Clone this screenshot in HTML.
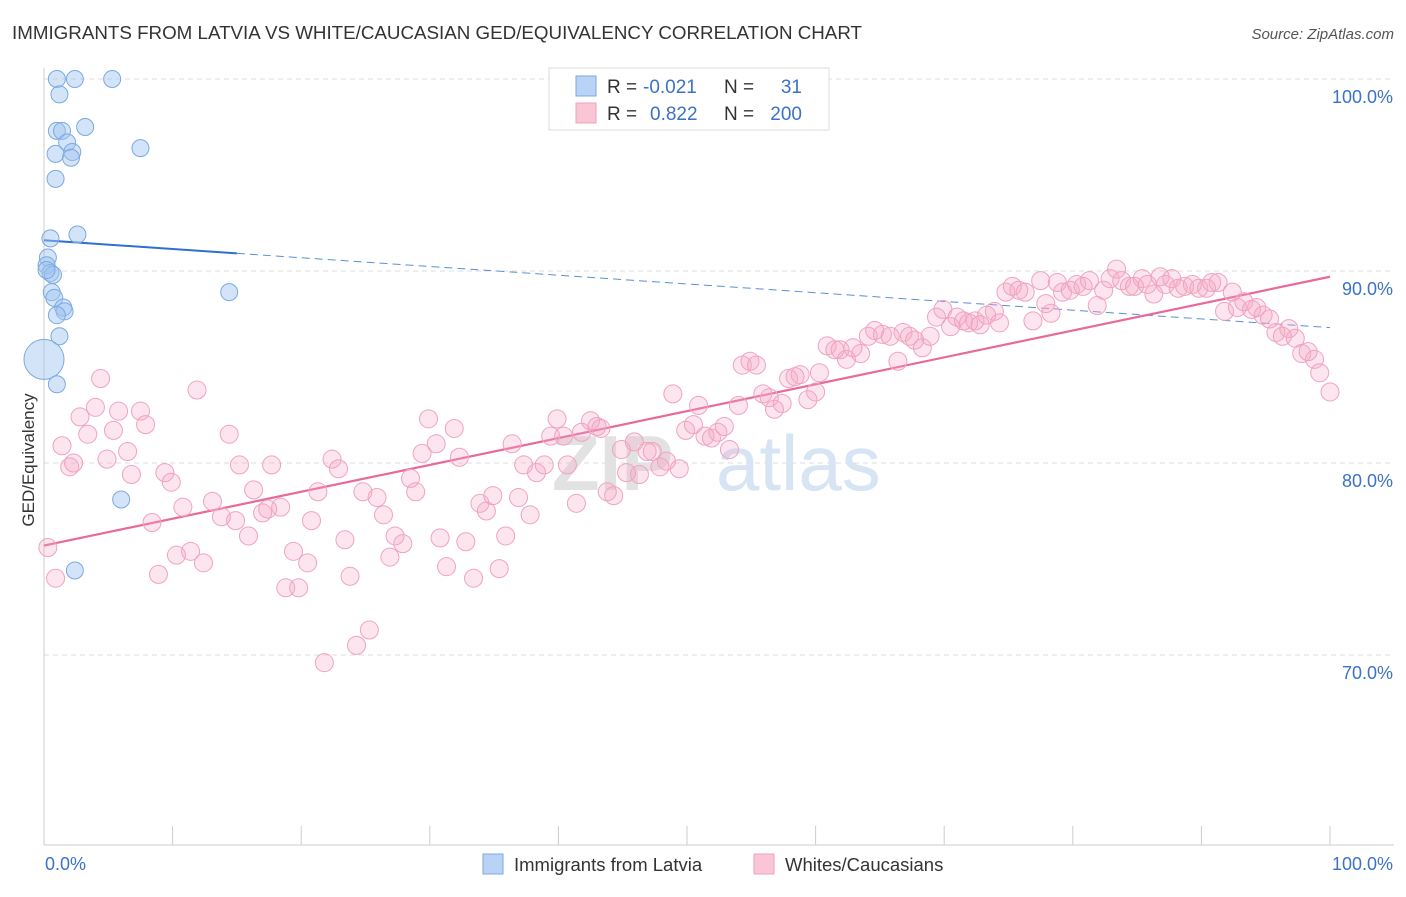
<!DOCTYPE html>
<html><head><meta charset="utf-8"><style>
body{margin:0;background:#fff;font-family:"Liberation Sans",sans-serif;}
svg text{font-family:"Liberation Sans",sans-serif;}
</style></head><body>
<svg id="chart" width="1406" height="892" xmlns="http://www.w3.org/2000/svg">
<text x="12" y="39" font-size="18" fill="#333" textLength="850" lengthAdjust="spacingAndGlyphs">IMMIGRANTS FROM LATVIA VS WHITE/CAUCASIAN GED/EQUIVALENCY CORRELATION CHART</text>
<text x="1394" y="39" font-size="15" fill="#555" font-style="italic" text-anchor="end">Source: ZipAtlas.com</text>
<text x="34" y="460" font-size="17" fill="#333" text-anchor="middle" transform="rotate(-90 34 460)">GED/Equivalency</text>
<g id="grid"></g>
<g><text x="552" y="490" font-size="78" fill="#e2e2e2" font-weight="bold">ZIP</text><text x="716" y="490" font-size="78" fill="#d6e4f4">atlas</text></g>
<g id="trend"></g>
<g id="points"></g>
<g>
<rect x="549" y="68" width="280" height="62" fill="#fff" stroke="#ddd"/>
<rect x="576" y="76" width="20" height="20" fill="#b8d3f5" stroke="#7aaae0"/>
<rect x="576" y="103" width="20" height="20" fill="#f9c6d6" stroke="#f0a0bb"/>
<text x="607" y="93" font-size="19" fill="#333">R =</text><text x="643" y="93" font-size="19" fill="#3a72c8">-0.021</text>
<text x="724" y="93" font-size="19" fill="#333">N =</text><text x="802" y="93" font-size="19" fill="#3a72c8" text-anchor="end">31</text>
<text x="607" y="120" font-size="19" fill="#333">R =</text><text x="650" y="120" font-size="19" fill="#3a72c8">0.822</text>
<text x="724" y="120" font-size="19" fill="#333">N =</text><text x="802" y="120" font-size="19" fill="#3a72c8" text-anchor="end">200</text>
</g>
<g>
<rect x="483" y="854" width="20" height="20" fill="#b8d3f5" stroke="#7aaae0"/>
<text x="514" y="871" font-size="18.5" fill="#333">Immigrants from Latvia</text>
<rect x="754" y="854" width="20" height="20" fill="#f9c6d6" stroke="#f0a0bb"/>
<text x="785" y="871" font-size="18.5" fill="#333">Whites/Caucasians</text>
</g>
</svg>
<script>
const yTicks=[100,90,80,70];
const yTickLabels=["100.0%","90.0%","80.0%","70.0%"];
const xTickLabels=["0.0%","100.0%"];
const blueX=[1.0,2.4,5.3,1.2,1.0,1.4,3.2,1.8,0.9,2.2,2.1,7.5,0.9,0.5,2.6,0.3,0.2,0.5,0.7,0.6,0.8,14.4,1.5,1.6,1.0,1.2,0,1.0,6.0,2.4,0.2];
const blueY=[100,100,100,99.2,97.3,97.3,97.5,96.7,96.1,96.2,95.9,96.4,94.8,91.7,91.9,90.7,90.3,89.9,89.8,88.9,88.6,88.9,88.1,87.9,87.7,86.6,85.4,84.1,78.1,74.4,90.05];
const pinkX=[0.3,0.9,1.4,2.0,2.3,2.8,3.4,4.0,4.4,4.9,5.4,5.8,6.5,6.8,7.5,7.9,8.4,8.9,9.4,9.9,10.3,10.8,11.4,11.9,12.4,13.1,13.8,14.4,14.9,15.2,15.9,16.3,17.0,17.4,17.7,18.4,18.8,19.4,19.8,20.5,20.8,21.3,21.8,22.4,22.9,23.4,23.8,24.3,24.8,25.3,25.9,26.4,26.9,27.3,27.9,28.5,28.9,29.4,29.9,30.5,30.8,31.3,31.9,32.3,32.8,33.4,33.9,34.4,34.9,35.4,35.9,36.4,36.9,37.3,37.8,38.3,38.9,39.4,39.9,40.4,40.7,41.4,41.8,42.5,43.0,43.3,43.8,44.3,44.9,45.3,45.9,46.3,46.9,47.3,47.9,48.4,48.9,49.4,49.9,50.5,50.9,51.4,51.9,52.4,52.9,53.3,54.0,54.3,54.9,55.4,55.9,56.4,56.8,57.4,57.9,58.4,58.8,59.4,60.0,60.3,60.9,61.5,61.9,62.4,62.9,63.5,64.1,64.6,65.2,65.8,66.4,66.8,67.3,67.7,68.3,68.9,69.4,69.9,70.5,71.0,71.5,71.9,72.4,72.8,73.3,73.9,74.3,74.8,75.3,75.8,76.3,76.9,77.5,77.9,78.3,78.8,79.2,79.8,80.3,80.8,81.3,81.9,82.4,82.9,83.4,83.8,84.4,84.8,85.4,85.8,86.3,86.8,87.2,87.7,88.2,88.7,89.3,89.8,90.4,90.8,91.3,91.8,92.4,92.8,93.3,93.9,94.3,94.8,95.3,95.8,96.3,96.8,97.3,97.8,98.3,98.8,99.2,100];
const pinkY=[75.6,74.0,80.9,79.8,80.0,82.4,81.5,82.9,84.4,80.2,81.7,82.7,80.6,79.4,82.7,82.0,76.9,74.2,79.5,79.0,75.2,77.7,75.4,83.8,74.8,78.0,77.2,81.5,77.0,79.9,76.2,78.6,77.4,77.6,79.9,77.7,73.5,75.4,73.5,74.8,77.0,78.5,69.6,80.2,79.7,76.0,74.1,70.5,78.5,71.3,78.2,77.3,75.1,76.2,75.8,79.2,78.5,80.5,82.3,81.0,76.1,74.6,81.8,80.3,75.9,74.0,77.9,77.5,78.3,74.5,76.2,81.0,78.2,79.9,77.3,79.5,79.9,81.4,82.3,81.4,79.9,77.9,81.6,82.2,81.9,81.8,78.5,78.3,80.7,79.5,81.1,79.4,80.6,80.6,79.8,80.1,83.6,79.7,81.7,82.0,83.0,81.4,81.3,81.6,81.9,80.7,83.0,85.1,85.3,85.1,83.6,83.4,82.8,83.1,84.4,84.5,84.6,83.3,83.7,84.7,86.1,85.9,85.9,85.4,86.0,85.7,86.6,86.9,86.7,86.6,85.3,86.8,86.6,86.4,86.0,86.6,87.6,88.0,87.1,87.6,87.4,87.3,87.4,87.2,87.7,87.9,87.3,88.9,89.2,89.0,88.9,87.4,89.5,88.3,87.8,89.4,88.9,89.0,89.3,89.2,89.5,88.2,89.0,89.6,90.1,89.5,89.2,89.2,89.6,89.3,88.8,89.7,89.3,89.6,89.1,89.2,89.3,89.1,89.1,89.4,89.4,87.9,88.9,88.1,88.4,88.0,88.1,87.7,87.5,86.8,86.6,87.0,86.5,85.7,85.8,85.4,84.7,83.7];
const blueTrend=[91.6,87.05];
const pinkTrend=[75.7,89.7];
const NS="http://www.w3.org/2000/svg";
function sx(v){return 44+v*12.86;}
function sy(v){return 79+(100-v)*19.2;}
function mk(tag,attrs,parent){const e=document.createElementNS(NS,tag);for(const k in attrs)e.setAttribute(k,attrs[k]);parent.appendChild(e);return e;}
const grid=document.getElementById('grid');
yTicks.forEach((t,i)=>{
 const l=mk('line',{x1:44,x2:1394,y1:sy(t),y2:sy(t),stroke:'#ddd','stroke-dasharray':'5,4'},grid);
 
 
 const tx=mk('text',{x:1393,y:sy(t)+24,'font-size':18,fill:'#3a72c8','text-anchor':'end'},grid);
 tx.textContent=yTickLabels[i];
 
 
});
const ax=mk('line',{x1:44,x2:44,y1:68,y2:845,stroke:'#ccc'},grid);


const bx=mk('line',{x1:44,x2:1394,y1:845,y2:845,stroke:'#ccc'},grid);


for(let i=0;i<=10;i++){
 const t=mk('line',{x1:sx(i*10),x2:sx(i*10),y1:826,y2:845,stroke:'#ccc'},grid);
 
 
}
[[0,'start',45],[100,'end',1393]].forEach((d,i)=>{
 const tx=mk('text',{x:d[2],y:870,'font-size':18,fill:'#3a72c8','text-anchor':d[1]},grid);
 tx.textContent=xTickLabels[i];
 
 
});
const pts=document.getElementById('points');
pinkX.forEach((x,i)=>{
 const c=mk('circle',{cx:sx(x),cy:sy(pinkY[i]),r:9,fill:'rgba(246,170,198,0.3)',stroke:'#f0a3bd','stroke-width':1},pts);
 
 
});
blueX.forEach((x,i)=>{
 const c=mk('circle',{cx:sx(x),cy:sy(blueY[i]),r:(x===0?20:8.5),fill:'rgba(160,195,240,0.45)',stroke:'#7aaae0','stroke-width':1},pts);
 
 
});
const tr=document.getElementById('trend');
function ty(a,x){return a[0]+(a[1]-a[0])*x/100;}
const b1=mk('line',{x1:sx(0),y1:sy(ty(blueTrend,0)),x2:sx(15),y2:sy(ty(blueTrend,15)),stroke:'#2f6fd0','stroke-width':2},tr);


const b2=mk('line',{x1:sx(15),y1:sy(ty(blueTrend,15)),x2:sx(100),y2:sy(ty(blueTrend,100)),stroke:'#5a8fd8','stroke-width':1,'stroke-dasharray':'8,5'},tr);


const p1=mk('line',{x1:sx(0),y1:sy(ty(pinkTrend,0)),x2:sx(100),y2:sy(ty(pinkTrend,100)),stroke:'#e8699a','stroke-width':2.2},tr);


</script>
</body></html>
